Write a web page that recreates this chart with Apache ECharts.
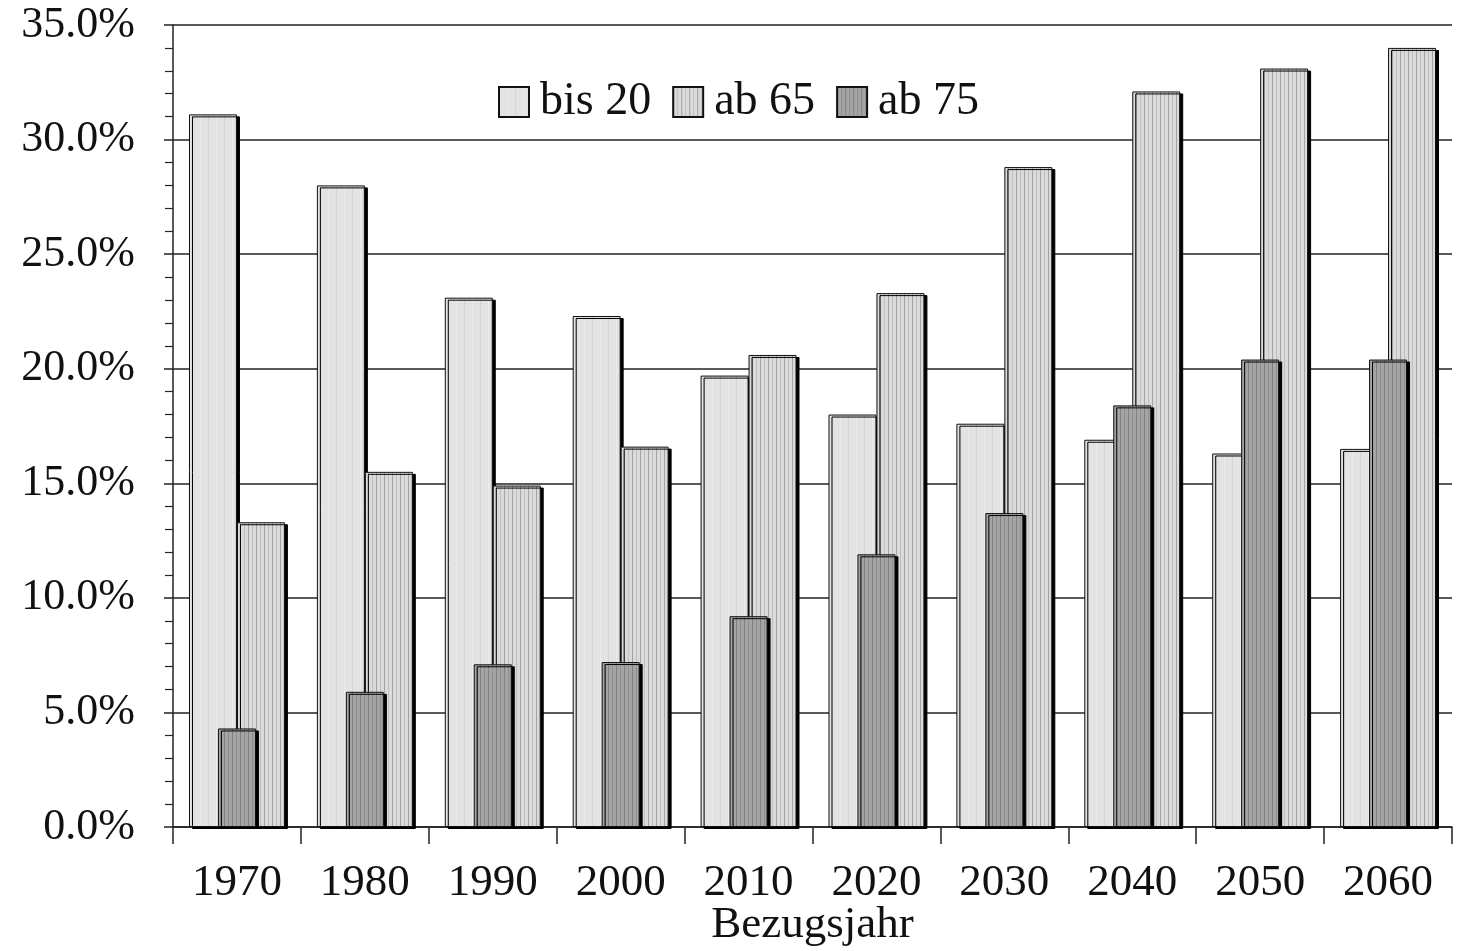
<!DOCTYPE html>
<html>
<head>
<meta charset="utf-8">
<script src="https://cdn.jsdelivr.net/npm/echarts@6/dist/echarts.min.js"></script>
<style>html,body{margin:0;padding:0;background:#fff}#c{width:1457px;height:951px}</style>
</head>
<body>
<div id="c"></div>
<script>
const categories = ['1970','1980','1990','2000','2010','2020','2030','2040','2050','2060'];
const seriesNames = ['bis 20','ab 65','ab 75'];
const bis20 = [31.1, 28.0, 23.1, 22.3, 19.7, 18.0, 17.6, 16.9, 16.3, 16.5];
const ab65 = [13.3, 15.5, 14.9, 16.6, 20.6, 23.3, 28.8, 32.1, 33.1, 34.0];
const ab75 = [4.3, 5.9, 7.1, 7.2, 9.2, 11.9, 13.7, 18.4, 20.4, 20.4];
const yTicks = {min: 0, max: 35, interval: 5};
const xTitle = 'Bezugsjahr';

function stripes(base, lines, step) {
  const c = document.createElement('canvas');
  c.width = step * lines.length; c.height = 4;
  const g = c.getContext('2d');
  g.fillStyle = base; g.fillRect(0, 0, c.width, c.height);
  lines.forEach((col, i) => { if (col) { g.fillStyle = col; g.fillRect(i * step, 0, 1, c.height); } });
  return {image: c, repeat: 'repeat'};
}
const pBis = stripes('#e3e3e3', ['#d4d4d4', null, '#ececec', null], 4);
const p65 = stripes('#dadada', ['#a4a4a4', '#c0c0c0'], 4);
const p75 = stripes('#a4a4a4', ['#808080', '#909090'], 4);

const font = '"Liberation Serif", "DejaVu Serif", serif';
const common = {
  type: 'bar',
  itemStyle: {borderColor: '#111', borderWidth: 1, shadowColor: '#000', shadowBlur: 0, shadowOffsetX: 3, shadowOffsetY: 2},
  emphasis: {disabled: true}
};

const chart = echarts.init(document.getElementById('c'), null, {renderer: 'canvas'});
chart.setOption({
  animation: false,
  backgroundColor: '#fff',
  grid: {left: 173, right: 5, top: 25, bottom: 124, containLabel: false, outerBoundsMode: 'none'},
  legend: {
    top: 74, left: 493, icon: 'rect',
    itemWidth: 30, itemHeight: 30, itemGap: 21,
    textStyle: {fontFamily: font, fontSize: 46, color: '#111', padding: [0, 0, 0, 6]},
    data: seriesNames
  },
  xAxis: [{
    type: 'category', data: categories,
    axisLine: {lineStyle: {color: '#222', width: 1.5}},
    axisTick: {show: true, length: 17, lineStyle: {color: '#222', width: 1.5}},
    axisLabel: {fontFamily: font, fontSize: 45, color: '#111', margin: 34},
    name: xTitle, nameLocation: 'middle', nameGap: 76, nameMoveOverlap: false,
    nameTextStyle: {fontFamily: font, fontSize: 45, color: '#111'}
  }, {
    type: 'category', data: categories, show: false
  }],
  yAxis: {
    type: 'value', min: yTicks.min, max: yTicks.max, interval: yTicks.interval,
    axisLine: {show: true, lineStyle: {color: '#222', width: 1.5}},
    axisTick: {show: true, length: 9, lineStyle: {color: '#222', width: 1.5}},
    minorTick: {show: true, splitNumber: 5, length: 8, lineStyle: {color: '#222', width: 1.2}},
    splitLine: {show: true, lineStyle: {color: '#222', width: 1.6}},
    axisLabel: {fontFamily: font, fontSize: 44, color: '#111', margin: 38,
      formatter: v => v.toFixed(1) + '%'}
  },
  series: [
    Object.assign({}, common, {name: seriesNames[0], data: bis20, xAxisIndex: 0, barGap: '0%', barCategoryGap: '25%', z: 2,
      itemStyle: Object.assign({}, common.itemStyle, {color: pBis})}),
    Object.assign({}, common, {name: seriesNames[1], data: ab65, xAxisIndex: 0, barGap: '0%', barCategoryGap: '25%', z: 2,
      itemStyle: Object.assign({}, common.itemStyle, {color: p65})}),
    Object.assign({}, common, {name: seriesNames[2], data: ab75, xAxisIndex: 1, barWidth: 38, z: 3,
      itemStyle: Object.assign({}, common.itemStyle, {color: p75})})
  ]
});
</script>
</body>
</html>
